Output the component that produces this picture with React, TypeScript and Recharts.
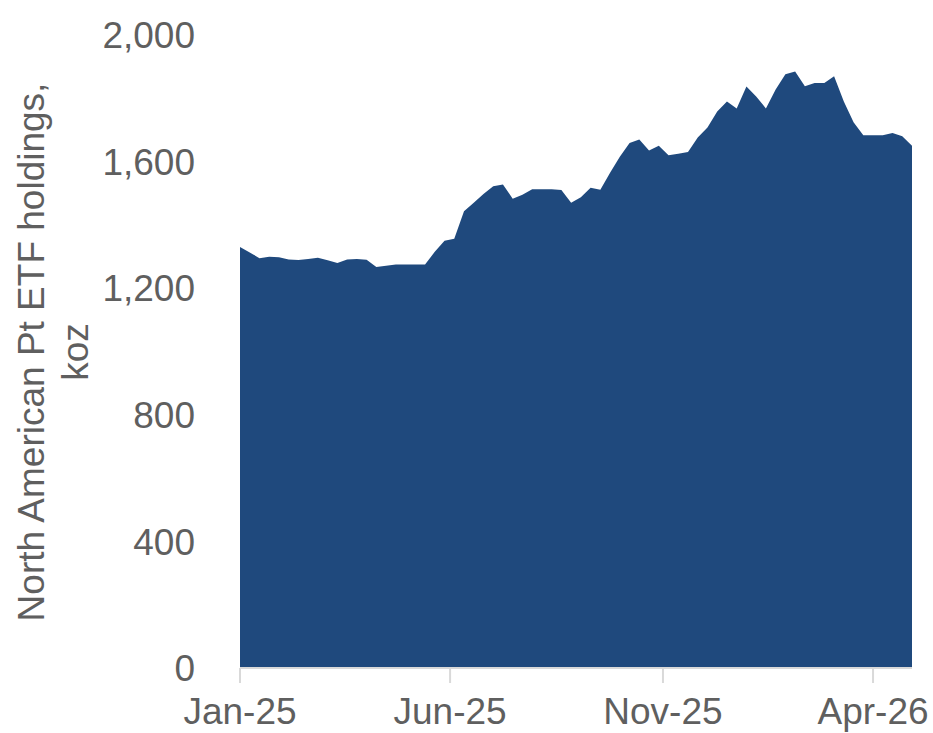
import { AreaChart, Area, XAxis, YAxis } from 'recharts';

// weekly observations
const weekDates = [
  '2025-01-01', '2025-01-08', '2025-01-15', '2025-01-22', '2025-01-29',
  '2025-02-05', '2025-02-12', '2025-02-19', '2025-02-26',
  '2025-03-05', '2025-03-12', '2025-03-19', '2025-03-26',
  '2025-04-02', '2025-04-09', '2025-04-16', '2025-04-23', '2025-04-30',
  '2025-05-07', '2025-05-14', '2025-05-21', '2025-05-28',
  '2025-06-04', '2025-06-11', '2025-06-18', '2025-06-25',
  '2025-07-02', '2025-07-09', '2025-07-16', '2025-07-23', '2025-07-30',
  '2025-08-06', '2025-08-13', '2025-08-20', '2025-08-27',
  '2025-09-03', '2025-09-10', '2025-09-17', '2025-09-24',
  '2025-10-01', '2025-10-08', '2025-10-15', '2025-10-22', '2025-10-29',
  '2025-11-05', '2025-11-12', '2025-11-19', '2025-11-26',
  '2025-12-03', '2025-12-10', '2025-12-17', '2025-12-24', '2025-12-31',
  '2026-01-07', '2026-01-14', '2026-01-21', '2026-01-28',
  '2026-02-04', '2026-02-11', '2026-02-18', '2026-02-25',
  '2026-03-04', '2026-03-11', '2026-03-18', '2026-03-25',
  '2026-04-01', '2026-04-08', '2026-04-15', '2026-04-22', '2026-04-29',
];

// North American Pt ETF holdings, koz
const holdings = [
  1330, 1313, 1295, 1299, 1298, 1291, 1289, 1292, 1296, 1288,
  1280, 1291, 1292, 1290, 1267, 1271, 1275, 1275, 1275, 1275,
  1315, 1350, 1356, 1443, 1470, 1498, 1522, 1528, 1483, 1495,
  1513, 1513, 1513, 1510, 1470, 1487, 1517, 1511, 1565, 1615,
  1659, 1670, 1635, 1650, 1620, 1625, 1630, 1676, 1708, 1758,
  1790, 1768, 1837, 1806, 1768, 1828, 1876, 1885, 1838, 1848,
  1848, 1870, 1790, 1724, 1683, 1683, 1683, 1690, 1680, 1650,
];

const xTickDates = ['2025-01-01', '2025-06-01', '2025-11-01', '2026-04-01'];
const xTickLabels = ['Jan-25', 'Jun-25', 'Nov-25', 'Apr-26'];
const yTicks = [0, 400, 800, 1200, 1600, 2000];

const data = weekDates.map((d, i) => ({ t: Date.parse(d), value: holdings[i] }));
const xTicks = xTickDates.map((d) => Date.parse(d));

const FONT = 'Liberation Sans, Arial, sans-serif';
const GREY = '#5f5f5f';

function AxisTitle() {
  return (
    <g>
      <text
        x={44}
        y={352}
        transform="rotate(-90, 44, 352)"
        textAnchor="middle"
        fontFamily={FONT}
        fontSize={37}
        fill={GREY}
      >
        North American Pt ETF holdings,
      </text>
      <text
        x={88}
        y={352}
        transform="rotate(-90, 88, 352)"
        textAnchor="middle"
        fontFamily={FONT}
        fontSize={37}
        fill={GREY}
      >
        koz
      </text>
    </g>
  );
}

export default function App() {
  return (
    <div style={{ position: 'absolute', left: 0, top: 0, background: '#fff' }}>
      <AreaChart
        width={933}
        height={733}
        data={data}
        margin={{ top: 35, right: 21, bottom: 14, left: 0 }}
      >
        <XAxis
          dataKey="t"
          type="number"
          scale="time"
          domain={['dataMin', 'dataMax']}
          ticks={xTicks}
          tickFormatter={(v) => xTickLabels[xTicks.indexOf(v)] ?? ''}
          stroke="#d9d9d9"
          strokeWidth={2}
          tickSize={15}
          tickMargin={15}
          height={51}
          tick={{ fill: GREY, fontSize: 37, fontFamily: FONT }}
          interval={0}
        />
        <YAxis
          domain={[0, 2000]}
          ticks={yTicks}
          tickFormatter={(v) => v.toLocaleString('en-US')}
          axisLine={false}
          tickLine={false}
          tickSize={0}
          tickMargin={45}
          width={240}
          tick={{ fill: GREY, fontSize: 37, fontFamily: FONT }}
          label={<AxisTitle />}
        />
        <Area
          type="linear"
          dataKey="value"
          stroke="none"
          fill="#1F497D"
          fillOpacity={1}
          isAnimationActive={false}
        />
      </AreaChart>
    </div>
  );
}
